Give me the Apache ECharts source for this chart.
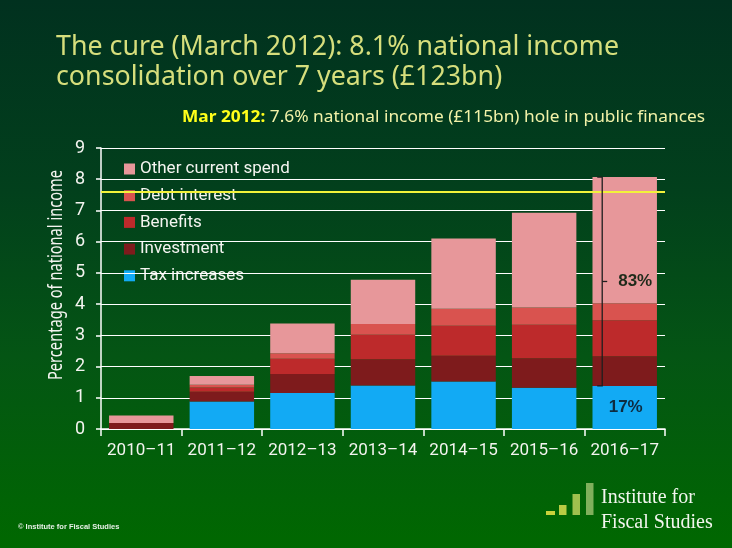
<!DOCTYPE html>
<html>
<head>
<meta charset="utf-8">
<script src="https://cdn.jsdelivr.net/npm/echarts@6/dist/echarts.min.js"></script>
<style>
html,body{margin:0;padding:0;}
#c{width:732px;height:548px;background:linear-gradient(180deg,#01311f 0%,#02401c 35%,#045514 65%,#006800 100%);}
</style>
</head>
<body>
<div id="c"></div>
<script>
var years = ['2010–11','2011–12','2012–13','2013–14','2014–15','2015–16','2016–17'];
var taxIncreases = [0, 0.88, 1.15, 1.39, 1.52, 1.32, 1.38];
var investment   = [0.19, 0.31, 0.61, 0.84, 0.83, 0.95, 0.95];
var benefits     = [0, 0.14, 0.49, 0.79, 0.96, 1.07, 1.15];
var debtInterest = [0, 0.09, 0.18, 0.34, 0.54, 0.55, 0.55];
var otherSpend   = [0.24, 0.28, 0.95, 1.42, 2.25, 3.04, 4.04];
var holeLevel = 7.6;
var yTicks = [0,1,2,3,4,5,6,7,8,9];
var shareLabels = ['83%','17%'];

var colors = {
  tax:'#12aaf4', inv:'#7e1b1c', ben:'#bd2a2b', debt:'#d9534f', other:'#e7979a'
};

var chart = echarts.init(document.getElementById('c'), null, {renderer:'canvas'});

function measure(text, font){
  var cv = document.createElement('canvas').getContext('2d');
  cv.font = font; return cv.measureText(text).width;
}
var titleFont = '28px "Noto Sans"';
var t1 = 'The cure (March 2012): 8.1% national income';
var t2 = 'consolidation over 7 years (£123bn)';
var t1Scale = 563 / measure(t1, titleFont);
var subA = 'Mar 2012:';
var subB = ' 7.6% national income (£115bn) hole in public finances';
var subFontA = 'bold 16px "Noto Sans"';
var subFontB = '16px "Noto Sans"';
var wA = measure(subA, subFontA), wB = measure(subB, subFontB);
var subScale = 523 / (wA + wB);
var yName = 'Percentage of national income';
var yNameFont = '19px "Noto Sans"';
var yNameScale = 210 / measure(yName, yNameFont);

function bar(name, data, color){
  return {name:name, type:'bar', stack:'s', data:data, barWidth:'80%',
    itemStyle:{color:color}, emphasis:{disabled:true}, z:3};
}

var series = [
  bar('Tax increases', taxIncreases, colors.tax),
  bar('Investment', investment, colors.inv),
  bar('Benefits', benefits, colors.ben),
  bar('Debt interest', debtInterest, colors.debt),
  bar('Other current spend', otherSpend, colors.other)
];
series[4].markLine = {
  silent:true, symbol:'none', label:{show:false},
  lineStyle:{color:'#f2f23a', width:2, type:'solid'},
  data:[{yAxis:holeLevel}], z:5
};

var option = {
  animation:false,
  backgroundColor:'transparent',
  textStyle:{fontFamily:'Roboto'},
  grid:{left:101, right:67, top:148, bottom:119, containLabel:false},
  legend:{
    orient:'vertical', left:119, top:154, z:0, zlevel:0,
    itemWidth:11, itemHeight:11, itemGap:6.7, icon:'rect',
    textStyle:{color:'#f4f4f0', fontSize:17, fontFamily:'Roboto', lineHeight:20},
    data:['Other current spend','Debt interest','Benefits','Investment','Tax increases'],
    selectedMode:false
  },
  xAxis:{
    type:'category', data:years, z:2,
    axisLine:{lineStyle:{color:'#ffffff', width:1.5}},
    axisTick:{show:true, length:7, lineStyle:{color:'#ffffff', width:1.5}},
    axisLabel:{color:'#f4f4f0', fontSize:17, margin:13, interval:0, fontFamily:'Roboto'}
  },
  yAxis:{
    type:'value', min:0, max:9, interval:1, z:2,
    axisLine:{show:true, lineStyle:{color:'#ffffff', width:1.5}},
    axisTick:{show:true, length:5, lineStyle:{color:'#ffffff', width:1.5}},
    axisLabel:{color:'#f4f4f0', fontSize:18, margin:16, fontFamily:'Roboto',
      formatter:function(v){return yTicks.indexOf(v) >= 0 ? String(v) : '';}},
    splitLine:{show:true, lineStyle:{color:'#ffffff', width:1.2}}
  },
  series:series
};
chart.setOption(option);

// annotations positioned from data through the axes
var last = years.length - 1;
var total = taxIncreases[last]+investment[last]+benefits[last]+debtInterest[last]+otherSpend[last];
var pTop = chart.convertToPixel({gridIndex:0}, [last, total]);
var pTax = chart.convertToPixel({gridIndex:0}, [last, taxIncreases[last]]);
var pMid = chart.convertToPixel({gridIndex:0}, [last, (total + taxIncreases[last]) / 2]);
var pTaxMid = chart.convertToPixel({gridIndex:0}, [last, taxIncreases[last] / 2]);
var bx = pTop[0] - 22.5;
var lineCol = '#1e1e1e';

var graphics = [
  {type:'text', x:56, y:47, z:10, scaleX:t1Scale,
    style:{text:t1, font:titleFont, fill:'#d6de7c', verticalAlign:'middle'}},
  {type:'text', x:56, y:77, z:10, scaleX:t1Scale,
    style:{text:t2, font:titleFont, fill:'#d6de7c', verticalAlign:'middle'}},
  {type:'group', x:182, y:117.5, scaleX:subScale, z:10, children:[
    {type:'text', x:0, y:0, style:{text:subA, font:subFontA, fill:'#ffff1a', verticalAlign:'middle'}},
    {type:'text', x:wA, y:0, style:{text:subB, font:subFontB, fill:'#f2f2a8', verticalAlign:'middle'}}
  ]},
  {type:'text', x:57, y:275, rotation:Math.PI/2, scaleX:yNameScale, z:10,
    style:{text:yName, font:yNameFont, fill:'#f4f4f0', align:'center', verticalAlign:'middle'}},
  {type:'polyline', z:10, silent:true, shape:{points:[[bx-5,pTop[1]],[bx,pTop[1]],[bx,pTax[1]],[bx-5,pTax[1]]]},
    style:{stroke:lineCol, lineWidth:1.3, fill:null}},
  {type:'line', z:10, silent:true, shape:{x1:bx, y1:pMid[1], x2:bx+5, y2:pMid[1]},
    style:{stroke:lineCol, lineWidth:1.3}},
  {type:'text', z:10, x:bx+16, y:pMid[1], style:{text:shareLabels[0], font:'bold 17px "Liberation Sans"', fill:'#1f2a1a', verticalAlign:'middle'}},
  {type:'text', z:10, x:pTaxMid[0]+1, y:pTaxMid[1], style:{text:shareLabels[1], font:'bold 17px "Liberation Sans"', fill:'#0e2c40', align:'center', verticalAlign:'middle'}},
  {type:'text', x:18, y:527, z:10, style:{text:'© Institute for Fiscal Studies', font:'bold 7.5px "Liberation Sans"', fill:'#e8f0e8', verticalAlign:'middle'}},
  // logo
  {type:'rect', z:10, shape:{x:546, y:511, width:9, height:4}, style:{fill:'#c9d23c'}},
  {type:'rect', z:10, shape:{x:559, y:505, width:7.5, height:10}, style:{fill:'#b9cc44'}},
  {type:'rect', z:10, shape:{x:572.5, y:494, width:7.5, height:21}, style:{fill:'#9fc04e'}},
  {type:'rect', z:10, shape:{x:586, y:483, width:7.5, height:32}, style:{fill:'#80b05c'}},
  {type:'text', z:10, x:601, y:498, style:{text:'Institute for', font:'20px "Liberation Serif"', fill:'#f2f5ee', verticalAlign:'middle'}},
  {type:'text', z:10, x:601, y:523, style:{text:'Fiscal Studies', font:'20px "Liberation Serif"', fill:'#f2f5ee', verticalAlign:'middle'}}
];
chart.setOption({graphic:graphics});
</script>
</body>
</html>
